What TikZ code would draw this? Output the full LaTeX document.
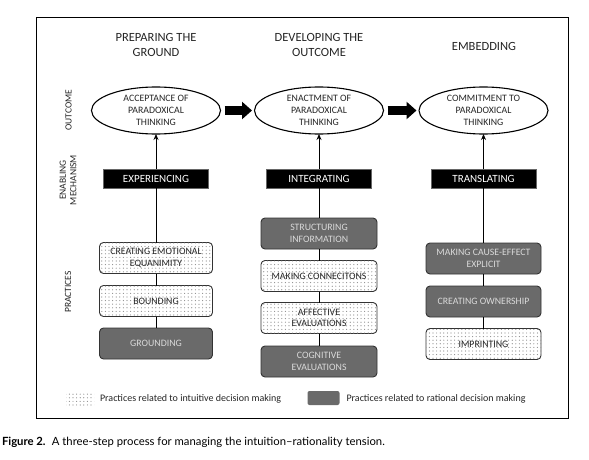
\documentclass[tikz,border=0pt]{standalone}
\usepackage{fontspec}
\setmainfont{Carlito}
\newfontfamily\capfont{Lato}
\usetikzlibrary{patterns,arrows.meta,shapes.geometric}
\definecolor{darkfill}{HTML}{6A6A6A}
\definecolor{darktext}{HTML}{DADADA}
\definecolor{edgecol}{HTML}{333333}
\pgfdeclarepatternformonly{bigdots}{\pgfqpoint{-1pt}{-1pt}}{\pgfqpoint{3pt}{3pt}}{\pgfqpoint{3.6pt}{3.6pt}}{\pgfpathcircle{\pgfqpoint{1pt}{1pt}}{0.6pt}\pgfusepath{fill}}
\begin{document}
\begin{tikzpicture}[x=1pt,y=-1pt,
 every node/.style={inner sep=0pt, outer sep=0pt},
 header/.style={font=\fontsize{12.5}{15}\selectfont, align=center, text=black!85},
 outcomenode/.style={ellipse, draw=black, line width=1.1pt, minimum width=129pt, minimum height=47pt, align=center, font=\fontsize{9.8}{11.7}\selectfont, text=black!85},
 mechbox/.style={rectangle, fill=black, draw=black!60, line width=0.5pt, text=white, minimum width=105pt, minimum height=19pt, font=\fontsize{11}{13}\selectfont},
 intuitive/.style={rectangle, rounded corners=4pt, draw=edgecol, line width=0.9pt, fill=white, postaction={pattern=bigdots, pattern color=black!45}, minimum height=31pt, align=center, font=\fontsize{9.8}{11.5}\selectfont, text=black!85},
 rational/.style={rectangle, rounded corners=4pt, draw=edgecol, line width=0.9pt, fill=darkfill, text=darktext, minimum height=31pt, align=center, font=\fontsize{9.8}{11.5}\selectfont},
 sidelabel/.style={rotate=90, align=center, font=\fontsize{9.5}{10.5}\selectfont, text=black!85},
 legendtext/.style={anchor=west, font=\fontsize{10}{12}\selectfont, text=black!85},
 link/.style={draw=black, line width=0.9pt},
 uparrow/.style={link, -{Stealth[length=6pt,width=5pt]}},
 blockarrow/.style={draw=black, line width=9pt, -{Triangle[length=10pt,width=17pt]}},
 ]
\useasboundingbox (0,0) rectangle (589,460);
\fill[white] (0,0) rectangle (589,460);
\draw[line width=1pt] (36,17.5) rectangle (568,418);

% headers
\node[header] (h1) at (156,44.5) {PREPARING THE\\GROUND};
\node[header] (h2) at (319,44.5) {DEVELOPING THE\\OUTCOME};
\node[header] (h3) at (484,46) {EMBEDDING};

% side labels
\node[sidelabel] (l1) at (68.5,110) {OUTCOME};
\node[sidelabel] (l2) at (68,180) {ENABLING\\MECHANISM};
\node[sidelabel] (l3) at (68,292) {PRACTICES};

% outcomes
\node[outcomenode] (o1) at (156,110.5) {ACCEPTANCE OF\\PARADOXICAL\\THINKING};
\node[outcomenode] (o2) at (319,110.5) {ENACTMENT OF\\PARADOXICAL\\THINKING};
\node[outcomenode] (o3) at (483.5,110.5) {COMMITMENT TO\\PARADOXICAL\\THINKING};

% mechanisms
\node[mechbox] (m1) at (156,178.5) {EXPERIENCING};
\node[mechbox] (m2) at (319,178.5) {INTEGRATING};
\node[mechbox] (m3) at (483.5,178.5) {TRANSLATING};

% practices
\node[intuitive, minimum width=113pt] (c1a) at (156,258) {CREATING EMOTIONAL\\EQUANIMITY};
\node[intuitive, minimum width=113pt] (c1b) at (156,301) {BOUNDING};
\node[rational, minimum width=113pt] (c1c) at (156,343.5) {GROUNDING};

\node[rational, minimum width=116pt] (c2a) at (319,233.5) {STRUCTURING\\INFORMATION};
\node[intuitive, minimum width=116pt] (c2b) at (319,276) {MAKING CONNECITONS};
\node[intuitive, minimum width=116pt] (c2c) at (319,318) {AFFECTIVE\\EVALUATIONS};
\node[rational, minimum width=116pt] (c2d) at (319,361.5) {COGNITIVE\\EVALUATIONS};

\node[rational, minimum width=115pt] (c3a) at (483.5,258.5) {MAKING CAUSE-EFFECT\\EXPLICIT};
\node[rational, minimum width=115pt] (c3b) at (483.5,301.5) {CREATING OWNERSHIP};
\node[intuitive, minimum width=115pt] (c3c) at (483.5,344) {IMPRINTING};

% connectors
\draw[link] (c1a) -- (m1);
\draw[uparrow] (m1) -- (o1);
\draw[link] (c1a) -- (c1b);
\draw[link] (c1b) -- (c1c);

\draw[link] (c2a) -- (m2);
\draw[uparrow] (m2) -- (o2);
\draw[link] (c2a) -- (c2b);
\draw[link] (c2b) -- (c2c);
\draw[link] (c2c) -- (c2d);

\draw[link] (c3a) -- (m3);
\draw[uparrow] (m3) -- (o3);
\draw[link] (c3a) -- (c3b);
\draw[link] (c3b) -- (c3c);

% block arrows
\draw[blockarrow, shorten <=4pt, shorten >=2.5pt] (o1) -- (o2);
\draw[blockarrow, shorten <=4pt, shorten >=2.5pt] (o2) -- (o3);

% legend
\node[rectangle, minimum width=28pt, minimum height=14pt, pattern=bigdots, pattern color=black!45] (k1) at (80,399) {};
\node[legendtext] (t1) at (100,399) {Practices related to intuitive decision making};
\node[rectangle, rounded corners=2pt, minimum width=32pt, minimum height=14pt, fill=darkfill] (k2) at (323.5,398) {};
\node[legendtext] (t2) at (346.5,399) {Practices related to rational decision making};

% caption
\node[anchor=west, font=\capfont\fontsize{11.3}{13}\selectfont] (cap) at (2,442.5) {\textbf{Figure 2.}\hspace{0.55em}A three-step process for managing the intuition–rationality tension.};
\end{tikzpicture}
\end{document}
